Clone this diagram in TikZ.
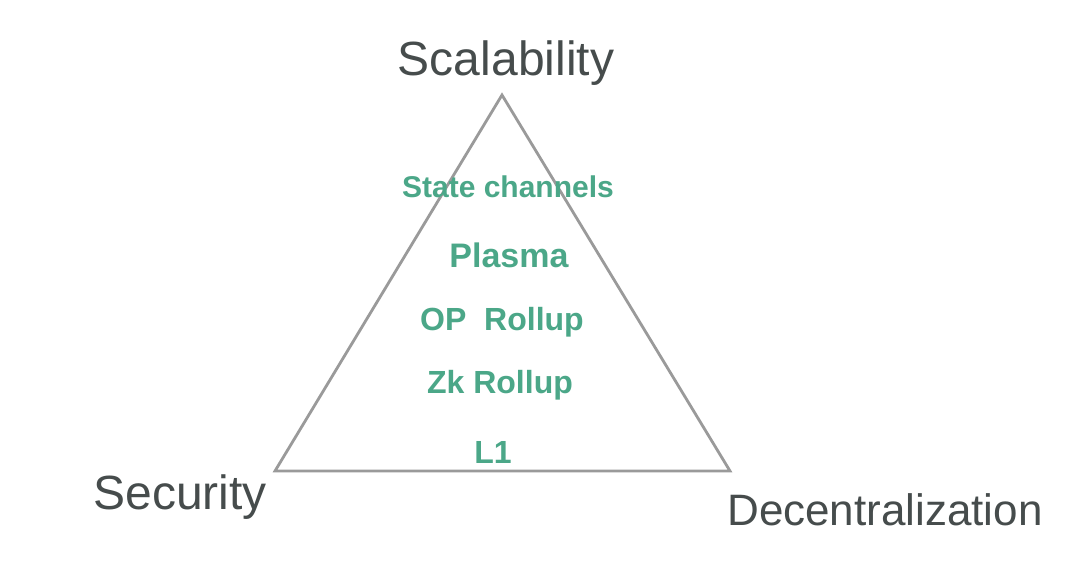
\documentclass[tikz,border=0pt]{standalone}
\usepackage{fontspec}
\setmainfont{Liberation Sans}
\definecolor{edgegray}{HTML}{9A9A9A}
\definecolor{inkgray}{HTML}{464C4C}
\definecolor{tealgreen}{HTML}{4BA788}
\begin{document}
\begin{tikzpicture}[x=1pt,y=-1pt,
  corner/.style={text=inkgray,font=\fontsize{48}{52}\selectfont,inner sep=0pt},
  layer/.style={text=tealgreen,font=\bfseries\fontsize{32}{36}\selectfont,inner sep=0pt},
  edge/.style={draw=edgegray,line width=2.8pt,line join=miter}]
\useasboundingbox (0,0) rectangle (1080,585);
\fill[white] (0,0) rectangle (1080,585);
\coordinate (top) at (502,95);
\coordinate (bl) at (275,471);
\coordinate (br) at (730,471);
\draw[edge] (top) -- (bl) -- (br) -- cycle;
\node[corner] (scal) at (506,63) {Scalability};
\node[corner] (sec) at (180,497) {Security};
\node[corner,font=\fontsize{44}{48}\selectfont] (dec) at (885,510) {Decentralization};
\node[layer,font=\bfseries\fontsize{30}{34}\selectfont] (sc) at (508,187) {State channels};
\node[layer,font=\bfseries\fontsize{34}{38}\selectfont] (pl) at (509,255) {Plasma};
\node[layer] (op) at (502,322) {OP\ \ Rollup};
\node[layer] (zk) at (500,385) {Zk Rollup};
\node[layer] (l1) at (493,452) {L1};
\end{tikzpicture}
\end{document}
